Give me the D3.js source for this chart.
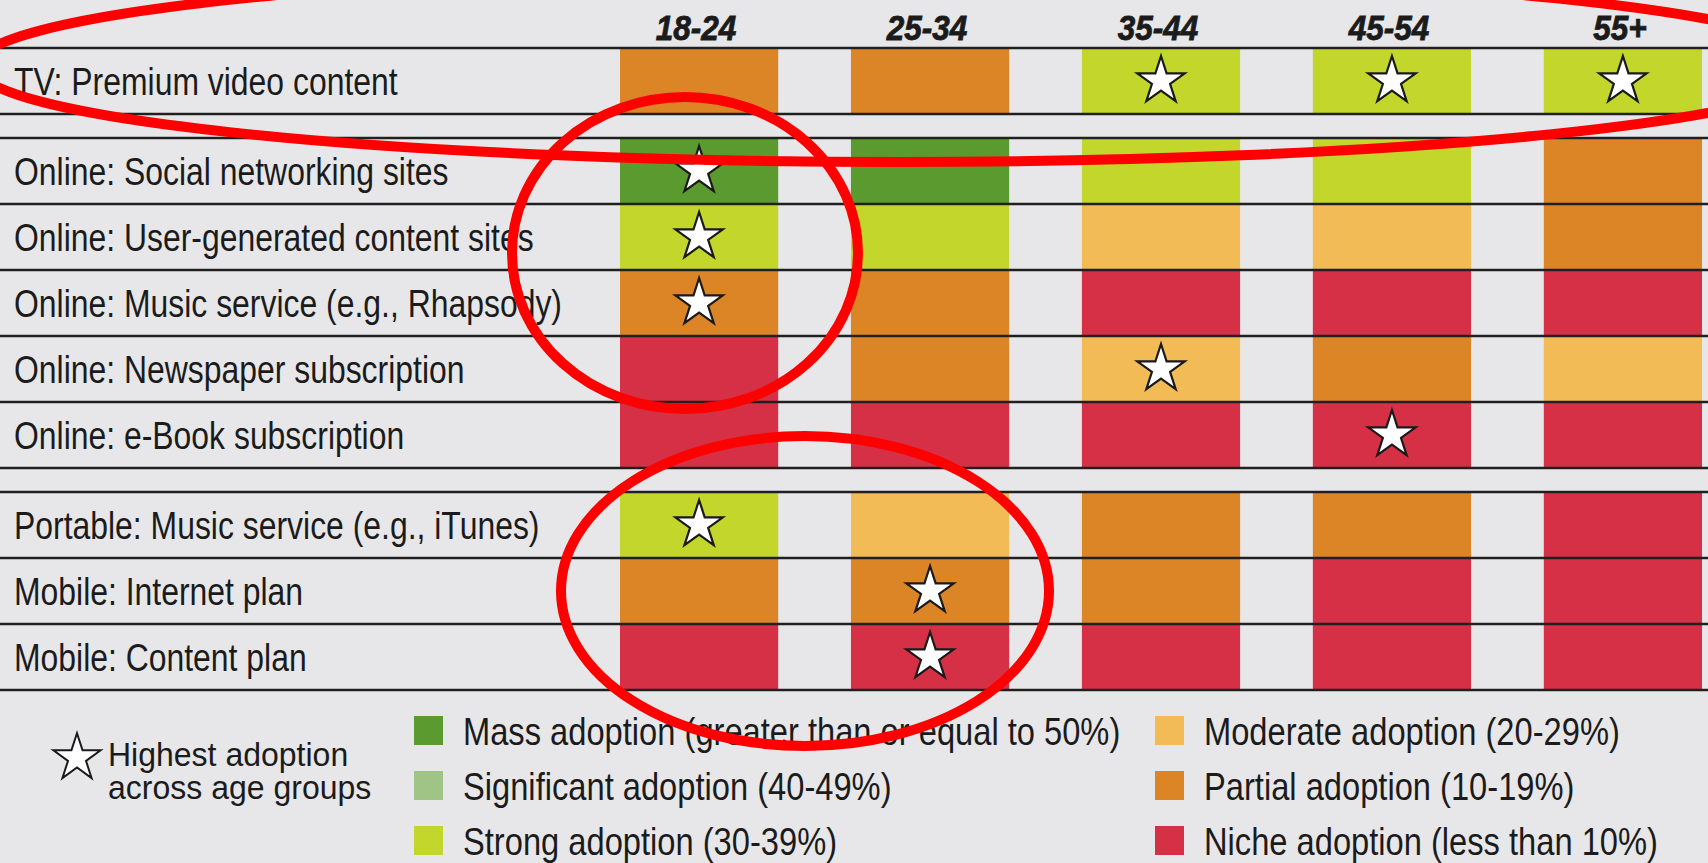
<!DOCTYPE html>
<html>
<head>
<meta charset="utf-8">
<script src="https://cdn.jsdelivr.net/npm/d3@7"></script>
<style>
  html, body { margin: 0; padding: 0; background: #e7e7e9; overflow: hidden; }
  svg { display: block; }
  .lbl { font-family: "Liberation Sans", Arial, sans-serif; fill: #1b1b1b; }
</style>
</head>
<body>
<svg id="chart"></svg>
<script>
// age groups (columns)
var ages = ["18-24", "25-34", "35-44", "45-54", "55+"];

// services (rows) and the block each belongs to
var services = [
  "TV: Premium video content",
  "Online: Social networking sites",
  "Online: User-generated content sites",
  "Online: Music service (e.g., Rhapsody)",
  "Online: Newspaper subscription",
  "Online: e-Book subscription",
  "Portable: Music service (e.g., iTunes)",
  "Mobile: Internet plan",
  "Mobile: Content plan"
];
var blocks = [0, 1, 1, 1, 1, 1, 2, 2, 2];

// adoption levels
var levels = ["Mass", "Significant", "Strong", "Moderate", "Partial", "Niche"];
var levelNames = [
  "Mass adoption (greater than or equal to 50%)",
  "Significant adoption (40-49%)",
  "Strong adoption (30-39%)",
  "Moderate adoption (20-29%)",
  "Partial adoption (10-19%)",
  "Niche adoption (less than 10%)"
];
var levelColors = ["#5b9a2f", "#9fc485", "#c3d62c", "#f2bb55", "#dc8526", "#d53046"];

// level per service x age group
var adoption = [
  ["Partial", "Partial", "Strong", "Strong", "Strong"],
  ["Mass", "Mass", "Strong", "Strong", "Partial"],
  ["Strong", "Strong", "Moderate", "Moderate", "Partial"],
  ["Partial", "Partial", "Niche", "Niche", "Niche"],
  ["Niche", "Partial", "Moderate", "Partial", "Moderate"],
  ["Niche", "Niche", "Niche", "Niche", "Niche"],
  ["Strong", "Moderate", "Partial", "Partial", "Niche"],
  ["Partial", "Partial", "Partial", "Niche", "Niche"],
  ["Niche", "Niche", "Niche", "Niche", "Niche"]
];

// highest adoption across age groups (stars)
var highest = [
  ["35-44", "45-54", "55+"],
  ["18-24"],
  ["18-24"],
  ["18-24"],
  ["35-44"],
  ["45-54"],
  ["18-24"],
  ["25-34"],
  ["25-34"]
];

var W = 1708, H = 863;
var svg = d3.select("#chart").attr("width", W).attr("height", H);

var color = d3.scaleOrdinal().domain(levels).range(levelColors);

var x = d3.scaleBand()
  .domain(ages)
  .range([620, 1702])
  .paddingInner(0.315)
  .paddingOuter(0);

// rows are 66px, blocks separated by a 24px strip
var rowH = 66, gapH = 24;
var y = d3.scaleLinear().domain([0, 1]).range([48, 48 + rowH]);
function rowTop(i) { return y(i + blocks[i] * gapH / rowH); }

var cells = [];
services.forEach(function(s, i) {
  ages.forEach(function(a, j) {
    cells.push({ row: i, age: a, level: adoption[i][j], star: highest[i].indexOf(a) >= 0 });
  });
});

// cells
svg.append("g").selectAll("rect")
  .data(cells)
  .enter().append("rect")
  .attr("x", function(d) { return x(d.age); })
  .attr("y", function(d) { return rowTop(d.row) + 1; })
  .attr("width", x.bandwidth())
  .attr("height", rowH - 1)
  .attr("fill", function(d) { return color(d.level); });

// horizontal rules
var ruleYs = [];
services.forEach(function(s, i) {
  ruleYs.push(rowTop(i));
  ruleYs.push(rowTop(i) + rowH);
});
ruleYs = Array.from(new Set(ruleYs.map(Math.round)));
svg.append("g").selectAll("line")
  .data(ruleYs)
  .enter().append("line")
  .attr("x1", 0).attr("x2", W)
  .attr("y1", function(d) { return d; })
  .attr("y2", function(d) { return d; })
  .attr("stroke", "#202020")
  .attr("stroke-width", 2.5);

// row labels (condensed face, squeezed horizontally)
svg.append("g").selectAll("text")
  .data(services)
  .enter().append("text")
  .attr("class", "lbl")
  .attr("transform", function(d, i) {
    return "translate(14," + (rowTop(i) + rowH / 2 + 14) + ") scale(0.84,1)";
  })
  .style("font-size", "38px")
  .text(function(d) { return d; });

// column headers
svg.append("g").selectAll("text")
  .data(ages)
  .enter().append("text")
  .attr("class", "lbl")
  .attr("transform", function(d) {
    return "translate(" + (x(d) + x.bandwidth() / 2 - 3) + ",40) scale(0.9,1)";
  })
  .attr("text-anchor", "middle")
  .attr("stroke", "#1b1b1b")
  .attr("stroke-width", 0.8)
  .style("font-size", "35px")
  .style("font-weight", "bold")
  .style("font-style", "italic")
  .text(function(d) { return d; });

// stars
var star = d3.symbol().type(d3.symbolStar).size(700);
svg.append("g").selectAll("path")
  .data(cells.filter(function(d) { return d.star; }))
  .enter().append("path")
  .attr("d", star)
  .attr("transform", function(d) {
    return "translate(" + (x(d.age) + x.bandwidth() / 2) + "," + (rowTop(d.row) + rowH / 2) + ")";
  })
  .attr("fill", "#fff")
  .attr("stroke", "#1a1a1a")
  .attr("stroke-width", 2.2);

// legend: star note
var lg = svg.append("g");
lg.append("path")
  .attr("d", d3.symbol().type(d3.symbolStar).size(690))
  .attr("transform", "translate(77,758)")
  .attr("fill", "#fff")
  .attr("stroke", "#1a1a1a")
  .attr("stroke-width", 2);
lg.append("text").attr("class", "lbl").attr("transform", "translate(108,766) scale(0.97,1)")
  .style("font-size", "33px").text("Highest adoption");
lg.append("text").attr("class", "lbl").attr("transform", "translate(108,799) scale(0.97,1)")
  .style("font-size", "33px").text("across age groups");

// legend: colour levels in two columns of three
var legendX = d3.scaleOrdinal().domain([0, 1]).range([414, 1155]);
var legendY = d3.scalePoint().domain([0, 1, 2]).range([716, 826]);
var items = lg.selectAll("g.item")
  .data(levels)
  .enter().append("g")
  .attr("class", "item")
  .attr("transform", function(d, i) {
    return "translate(" + legendX(Math.floor(i / 3)) + "," + legendY(i % 3) + ")";
  });
items.append("rect")
  .attr("width", 29).attr("height", 29)
  .attr("fill", function(d) { return color(d); });
items.append("text")
  .attr("class", "lbl")
  .attr("transform", "translate(49,29) scale(0.86,1)")
  .style("font-size", "38px")
  .text(function(d, i) { return levelNames[i]; });

// hand-drawn red annotation rings
var rings = svg.append("g").attr("fill", "none").attr("stroke", "#ff0000").attr("stroke-width", 10);
rings.append("ellipse").attr("cx", 900).attr("cy", 66).attr("rx", 925).attr("ry", 96);
rings.append("ellipse").attr("cx", 685).attr("cy", 253).attr("rx", 173).attr("ry", 156);
rings.append("ellipse").attr("cx", 805).attr("cy", 591).attr("rx", 244).attr("ry", 155);
</script>
</body>
</html>
